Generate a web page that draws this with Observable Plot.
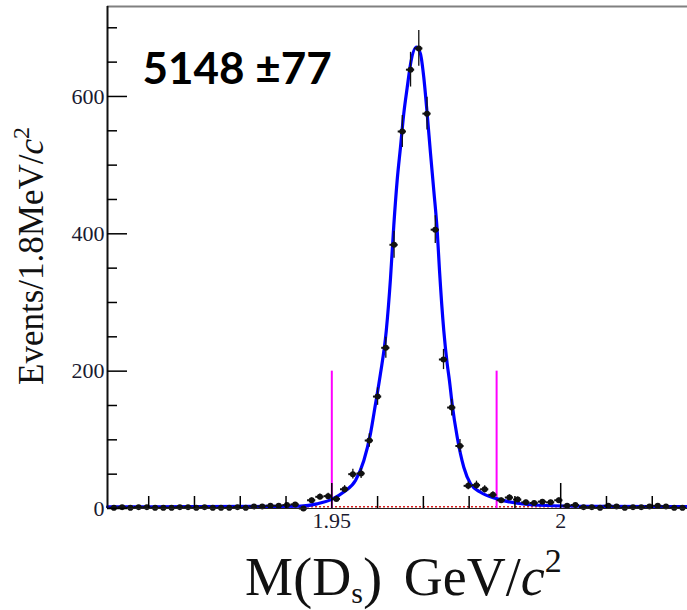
<!DOCTYPE html>
<html><head><meta charset="utf-8">
<script src="https://cdn.jsdelivr.net/npm/d3@7"></script>
<script src="https://cdn.jsdelivr.net/npm/@observablehq/plot@0.6"></script>
<style>body{margin:0;background:#fff}</style>
</head><body><div id="chart"></div>
<script>
// Histogram: 70 bins of 1.8 MeV
const binWidth = 0.0018;
const firstBinCenter = 1.9024;
const counts = [1,2,1,2,2,1,1,1,2,2, 1,2,1,1,1,2,1,3,3,4, 4,5,6,0,12,17,18,14,28,50, 51,99,163,234,384,549,639,670,575,406, 217,147,91,33,34,28,20,12,16,13, 9,8,10,9,12,4,5,2,2,1, 4,3,1,2,2,3,4,3,1,1];
// Fit curve
const fitMass = [1.9010,1.9200,1.9350,1.9432,1.9468,1.9502,1.9526,1.9552,1.9570,1.95845,1.95954,1.9606,1.9619,1.96282,1.96354,1.96428,1.9650,1.96572,1.96647,1.96719,1.9685,1.96937,1.97009,1.97083,1.97156,1.97228,1.97302,1.97352,1.97446,1.9752,1.9757,1.97629,1.97739,1.97883,1.9803,1.98248,1.98613,1.99049,1.99705,2.0100,2.0277];
const fitCounts = [2.5,2.6,3.0,3.5,6.8,14,24,41,70,109,152,195,259,335,412,478,526,575,613,647,672,662,628,575,517,463,405,347,259,211,186,152,104,60,36,23.7,14,7.7,4.4,3.0,2.6];
const bkgLevel = [2.5];
const signalWindow = [1.950, 1.986];
const windowHeight = 200;
const yMajor = [0, 200, 400, 600];
const yMinor = [50,100,150,250,300,350,450,500,550,650,700];
const xMajor = [1.95, 2.0];
const xMinor = [1.91,1.92,1.93,1.94,1.96,1.97,1.98,1.99,2.01,2.02];
const yieldLabel = ["5148 ±77"];

const hist = counts.map((n, i) => ({m: firstBinCenter + i * binWidth, n, e: Math.sqrt(n)}));
const fit = fitMass.map((m, i) => ({m, n: fitCounts[i]}));

const serif = "'Liberation Serif','Times New Roman',serif";
const plot = Plot.plot({
  width: 687, height: 610,
  marginLeft: 107, marginRight: 0, marginTop: 6, marginBottom: 102,
  style: {fontFamily: serif, background: "#fff"},
  x: {domain: [1.901, 2.0277]},
  y: {domain: [0, 731]},
  marks: [
    Plot.ruleY(bkgLevel, {stroke: "#d42020", strokeWidth: 1.5, strokeDasharray: "2,2"}),
    Plot.ruleX(signalWindow, {y1: 0, y2: windowHeight, stroke: "#ff00ff", strokeWidth: 2}),
    Plot.line(fit, {x: "m", y: "n", stroke: "#0000ff", strokeWidth: 3.2, curve: "monotone-x"}),
    Plot.ruleX(hist, {x: "m", y1: d => d.n - d.e, y2: d => d.n + d.e, stroke: "#111", strokeWidth: 1.3}),
    Plot.ruleY(hist, {y: "n", x1: d => d.m - binWidth / 2, x2: d => d.m + binWidth / 2, stroke: "#111", strokeWidth: 2}),
    Plot.dot(hist, {x: "m", y: "n", r: 3, fill: "#111"}),
    // frame lines
    Plot.ruleY([731], {stroke: "#808080", strokeWidth: 2}),
    Plot.ruleX([1.901], {stroke: "#111", strokeWidth: 2}),
    Plot.ruleY([0], {stroke: "#222", strokeWidth: 1.2}),
    // y ticks (pointing inward)
    Plot.axisY({ticks: yMajor, tickSize: 20, dx: 20, text: null, label: null, strokeWidth: 1.5}),
    Plot.axisY({ticks: yMinor, tickSize: 10, dx: 10, text: null, label: null, strokeWidth: 1.5}),
    Plot.axisY({ticks: yMajor, tickSize: 0, tickPadding: 3, fontSize: 22, label: null, tickFormat: d => String(d), fill: "#1a1a30"}),
    // x ticks (pointing up)
    Plot.axisX({ticks: xMajor, tickSize: 25, dy: -25, text: null, label: null, strokeWidth: 1.5}),
    Plot.axisX({ticks: xMinor, tickSize: 12, dy: -12, text: null, label: null, strokeWidth: 1.5}),
    Plot.axisX({ticks: xMajor, tickSize: 0, tickPadding: 4, fontSize: 22, label: null, tickFormat: d => String(d), fill: "#1a1a30"}),
    Plot.text(yieldLabel, {frameAnchor: "top-left", dx: 35, dy: 46, fontSize: 44, fontWeight: "bold", fontFamily: "Lato, 'Open Sans', sans-serif", fill: "#000"})
  ]
});
document.getElementById("chart").appendChild(plot);

const svg = d3.select(plot);
const yt = svg.append("text")
  .attr("transform", "translate(43,256) rotate(-90)")
  .attr("text-anchor", "middle")
  .attr("font-family", serif).attr("font-size", 35).attr("fill", "#111");
yt.append("tspan").text("Events/1.8MeV/");
yt.append("tspan").attr("font-style", "italic").text("c");
yt.append("tspan").attr("font-size", 24).attr("dy", -14).text("2");

const xt = svg.append("text")
  .attr("x", 245).attr("y", 595)
  .attr("text-anchor", "start")
  .attr("font-family", serif).attr("font-size", 54).attr("fill", "#111");
xt.append("tspan").text("M");
xt.append("tspan").attr("font-size", 58).attr("dy", 2).text("(");
xt.append("tspan").attr("dy", -2).text("D");
xt.append("tspan").attr("font-size", 30).attr("dy", 8).text("s");
xt.append("tspan").attr("font-size", 58).attr("dy", -6).text(")");
xt.append("tspan").attr("dy", -2).attr("dx", 8).text(" GeV/");
xt.append("tspan").attr("font-style", "italic").text("c");
xt.append("tspan").attr("font-size", 34).attr("dy", -23).text("2");
</script>
</body></html>
